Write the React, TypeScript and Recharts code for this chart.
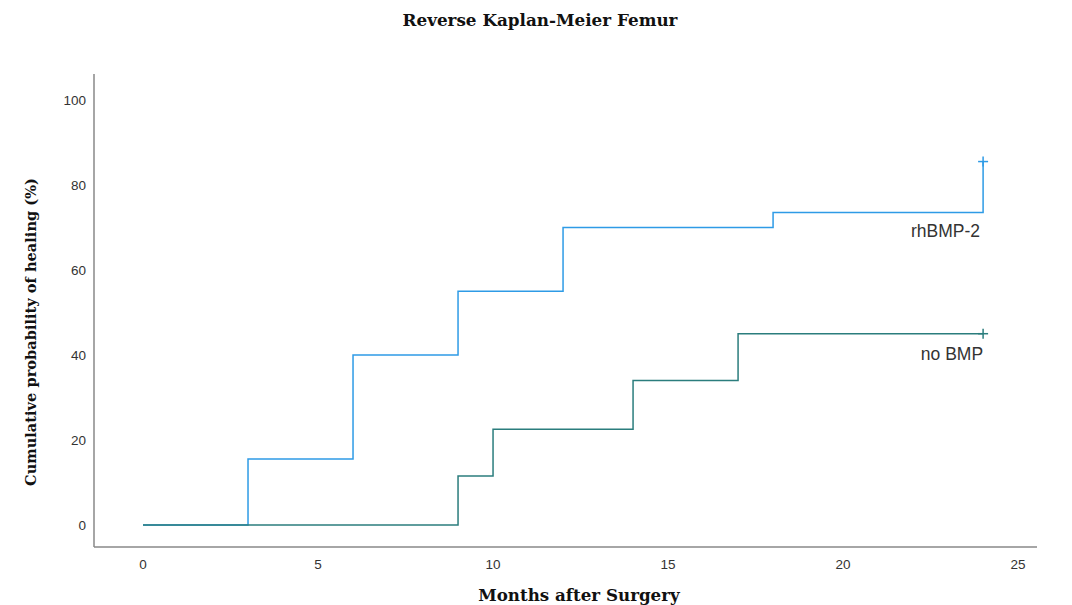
import React from 'react';
import { LineChart, Line, XAxis, YAxis, Label } from 'recharts';

const rhTimes = [0, 3, 6, 9, 12, 18, 24, 24];
const rhValues = [0, 15.5, 40, 55, 70, 73.5, 73.5, 85.5];
const noTimes = [0, 9, 10, 14, 17, 24];
const noValues = [0, 11.5, 22.5, 34, 45, 45];
const xTicks = [0, 5, 10, 15, 20, 25];
const yTicks = [0, 20, 40, 60, 80, 100];

const rhData = rhTimes.map((t, i) => ({ t, v: rhValues[i] }));
const noData = noTimes.map((t, i) => ({ t, v: noValues[i] }));

const RH_COLOR = '#2e9be6';
const NO_COLOR = '#2b7d7d';
const SERIF = '"DejaVu Serif", serif';
const SANS = '"Liberation Sans", Arial, sans-serif';

const censorDot = (color: string, last: number) => (props: any) => {
  const { cx, cy, index } = props;
  if (index !== last) return <g key={`d${index}`} />;
  return (
    <g key={`d${index}`}>
      <line x1={cx - 5} x2={cx + 5} y1={cy} y2={cy} stroke={color} strokeWidth={1.5} />
      <line x1={cx} x2={cx} y1={cy - 5} y2={cy + 5} stroke={color} strokeWidth={1.5} />
    </g>
  );
};

const endLabel = (text: string, last: number, dy: number, dx: number) => (props: any) => {
  const { x, y, index } = props;
  if (index !== last) return <g key={`l${index}`} />;
  return (
    <text key={`l${index}`} x={x + dx} y={y + dy} textAnchor="end" fontFamily={SANS} fontSize={17.5} fill="#333">
      {text}
    </text>
  );
};

export default function App() {
  return (
    <div style={{ position: 'absolute', left: 0, top: 0, width: 1072, height: 605, background: '#fff' }}>
      <LineChart width={1072} height={605} margin={{ top: 74, right: 35, bottom: 28, left: 0 }}>
        <text x={540} y={26} textAnchor="middle" fontFamily={SERIF} fontWeight="bold" fontSize={16.8} fill="#111">
          Reverse Kaplan-Meier Femur
        </text>
        <XAxis
          type="number"
          dataKey="t"
          domain={[-1.4, 25.54]}
          ticks={xTicks}
          allowDataOverflow
          height={30}
          tickLine={false}
          tickMargin={6}
          stroke="#888"
          strokeWidth={1.5}
          tick={{ fill: '#333', fontSize: 13.5, fontFamily: SANS }}
        >
          <Label
            content={() => (
              <text x={579} y={601} textAnchor="middle" fontFamily={SERIF} fontWeight="bold" fontSize={16.7} fill="#111">
                Months after Surgery
              </text>
            )}
          />
        </XAxis>
        <YAxis
          type="number"
          dataKey="v"
          domain={[-5.18, 106.1]}
          ticks={yTicks}
          allowDataOverflow
          width={94}
          tickLine={false}
          stroke="#888"
          strokeWidth={1.5}
          tick={{ fill: '#333', fontSize: 13.5, fontFamily: SANS }}
        >
          <Label
            content={() => (
              <text
                x={36}
                y={332}
                textAnchor="middle"
                transform="rotate(-90 36 332)"
                fontFamily={SERIF}
                fontWeight="bold"
                fontSize={14.6}
                fill="#111"
              >
                Cumulative probability of healing (%)
              </text>
            )}
          />
        </YAxis>
        <Line
          data={rhData}
          dataKey="v"
          type="stepAfter"
          stroke={RH_COLOR}
          strokeWidth={1.5}
          isAnimationActive={false}
          dot={censorDot(RH_COLOR, rhData.length - 1)}
          activeDot={false}
          label={endLabel('rhBMP-2', rhData.length - 2, 24, -3)}
        />
        <Line
          data={noData}
          dataKey="v"
          type="stepAfter"
          stroke={NO_COLOR}
          strokeWidth={1.5}
          isAnimationActive={false}
          dot={censorDot(NO_COLOR, noData.length - 1)}
          activeDot={false}
          label={endLabel('no BMP', noData.length - 1, 26, 0)}
        />
      </LineChart>
    </div>
  );
}
